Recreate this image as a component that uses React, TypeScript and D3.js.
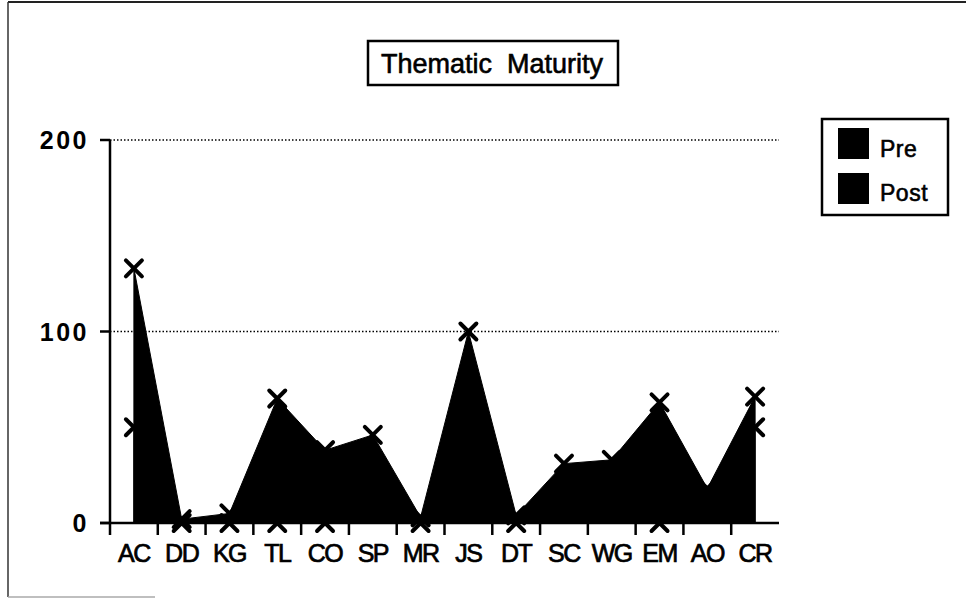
import React from "react";
import * as d3 from "d3";

const categories = ["AC", "DD", "KG", "TL", "CO", "SP", "MR", "JS", "DT", "SC", "WG", "EM", "AO", "CR"];
const preValues = [50, 0, 0, 0, 0, 8, 0, 8, 0, 6, 8, 0, 10, 50];
const postValues = [133, 2, 5, 65, 38, 46, 3, 100, 4, 31, 33, 63, 18, 66];
const yTicks = [0, 100, 200];
const gridTicks = [100, 200];
const seriesNames = ["Pre", "Post"];
const chartTitle = "Thematic  Maturity";

const FONT = "'Liberation Sans', Arial, Helvetica, sans-serif";

export default function App() {
  const x = d3.scaleBand<string>().domain(categories).range([110, 779]).padding(0);
  const y = d3.scaleLinear().domain([0, 200]).range([523, 140]);
  const cx = (c: string) => (x(c) as number) + x.bandwidth() / 2;

  const area = d3
    .area<number>()
    .x((_, i) => cx(categories[i]))
    .y0(y(0))
    .y1((d) => y(d));

  const series = [preValues, postValues];
  const m = 8;

  return (
    <svg width={966} height={601} style={{ position: "absolute", left: 0, top: 0, background: "#fff" }}>
      <rect x={0} y={0} width={966} height={601} fill="#fff" />
      {/* outer frame */}
      <line x1={8} y1={2} x2={966} y2={2} stroke="#222" strokeWidth={2} />
      <line x1={8} y1={2} x2={8} y2={597} stroke="#333" strokeWidth={1.5} />
      <line x1={8} y1={597} x2={155} y2={597} stroke="#aaa" strokeWidth={1.5} />

      {/* title */}
      <rect x={368} y={41} width={250} height={44} fill="#fff" stroke="#000" strokeWidth={2.5} />
      <text
        x={492}
        y={73}
        textAnchor="middle"
        fontFamily={FONT}
        fontSize={27}
        stroke="#000"
        strokeWidth={0.6}
        fill="#000"
        style={{ whiteSpace: "pre" }}
      >
        {chartTitle}
      </text>

      {/* gridlines */}
      {gridTicks.map((t) => (
        <line key={t} x1={110} x2={779} y1={y(t)} y2={y(t)} stroke="#000" strokeWidth={1.4} strokeDasharray="1.5,2" />
      ))}

      {/* areas */}
      {series.map((vals, si) => (
        <path key={si} d={area(vals) || ""} fill="#000" stroke="#000" strokeWidth={1} />
      ))}

      {/* axes */}
      <line x1={110} y1={140} x2={110} y2={535} stroke="#000" strokeWidth={2.5} />
      <line x1={100} y1={y(0)} x2={779} y2={y(0)} stroke="#000" strokeWidth={2.5} />
      {yTicks.map((t) => (
        <g key={t}>
          <line x1={100} x2={110} y1={y(t)} y2={y(t)} stroke="#000" strokeWidth={2.5} />
          <text x={89} y={y(t) + 9} textAnchor="end" fontFamily={FONT} fontWeight="bold" fontSize={25} letterSpacing={2.5} fill="#000">
            {t}
          </text>
        </g>
      ))}
      {categories.map((c, i) => (
        <g key={c}>
          {i > 0 && <line x1={x(c) as number} x2={x(c) as number} y1={y(0)} y2={535} stroke="#000" strokeWidth={2.5} />}
          <text
            x={cx(c)}
            y={562}
            textAnchor="middle"
            fontFamily={FONT}
            fontSize={25}
            letterSpacing={-1.5}
            stroke="#000"
            strokeWidth={0.7}
            fill="#000"
          >
            {c}
          </text>
        </g>
      ))}

      {/* markers */}
      {series.map((vals, si) =>
        vals.map((v, i) => {
          const px = cx(categories[i]);
          const py = y(v);
          return (
            <path
              key={`${si}-${i}`}
              d={`M${px - m},${py - m}L${px + m},${py + m}M${px - m},${py + m}L${px + m},${py - m}`}
              stroke="#000"
              strokeWidth={4}
              strokeLinecap="round"
              fill="none"
            />
          );
        })
      )}

      {/* legend */}
      <rect x={822} y={119} width={126} height={96} fill="#fff" stroke="#000" strokeWidth={2.5} />
      {seriesNames.map((s, i) => (
        <g key={s}>
          <rect x={838} y={128 + i * 45} width={31} height={31} fill="#000" />
          <text
            x={880}
            y={157 + i * 44}
            fontFamily={FONT}
            fontSize={23}
            letterSpacing={0.5}
            stroke="#000"
            strokeWidth={0.6}
            fill="#000"
          >
            {s}
          </text>
        </g>
      ))}
    </svg>
  );
}
